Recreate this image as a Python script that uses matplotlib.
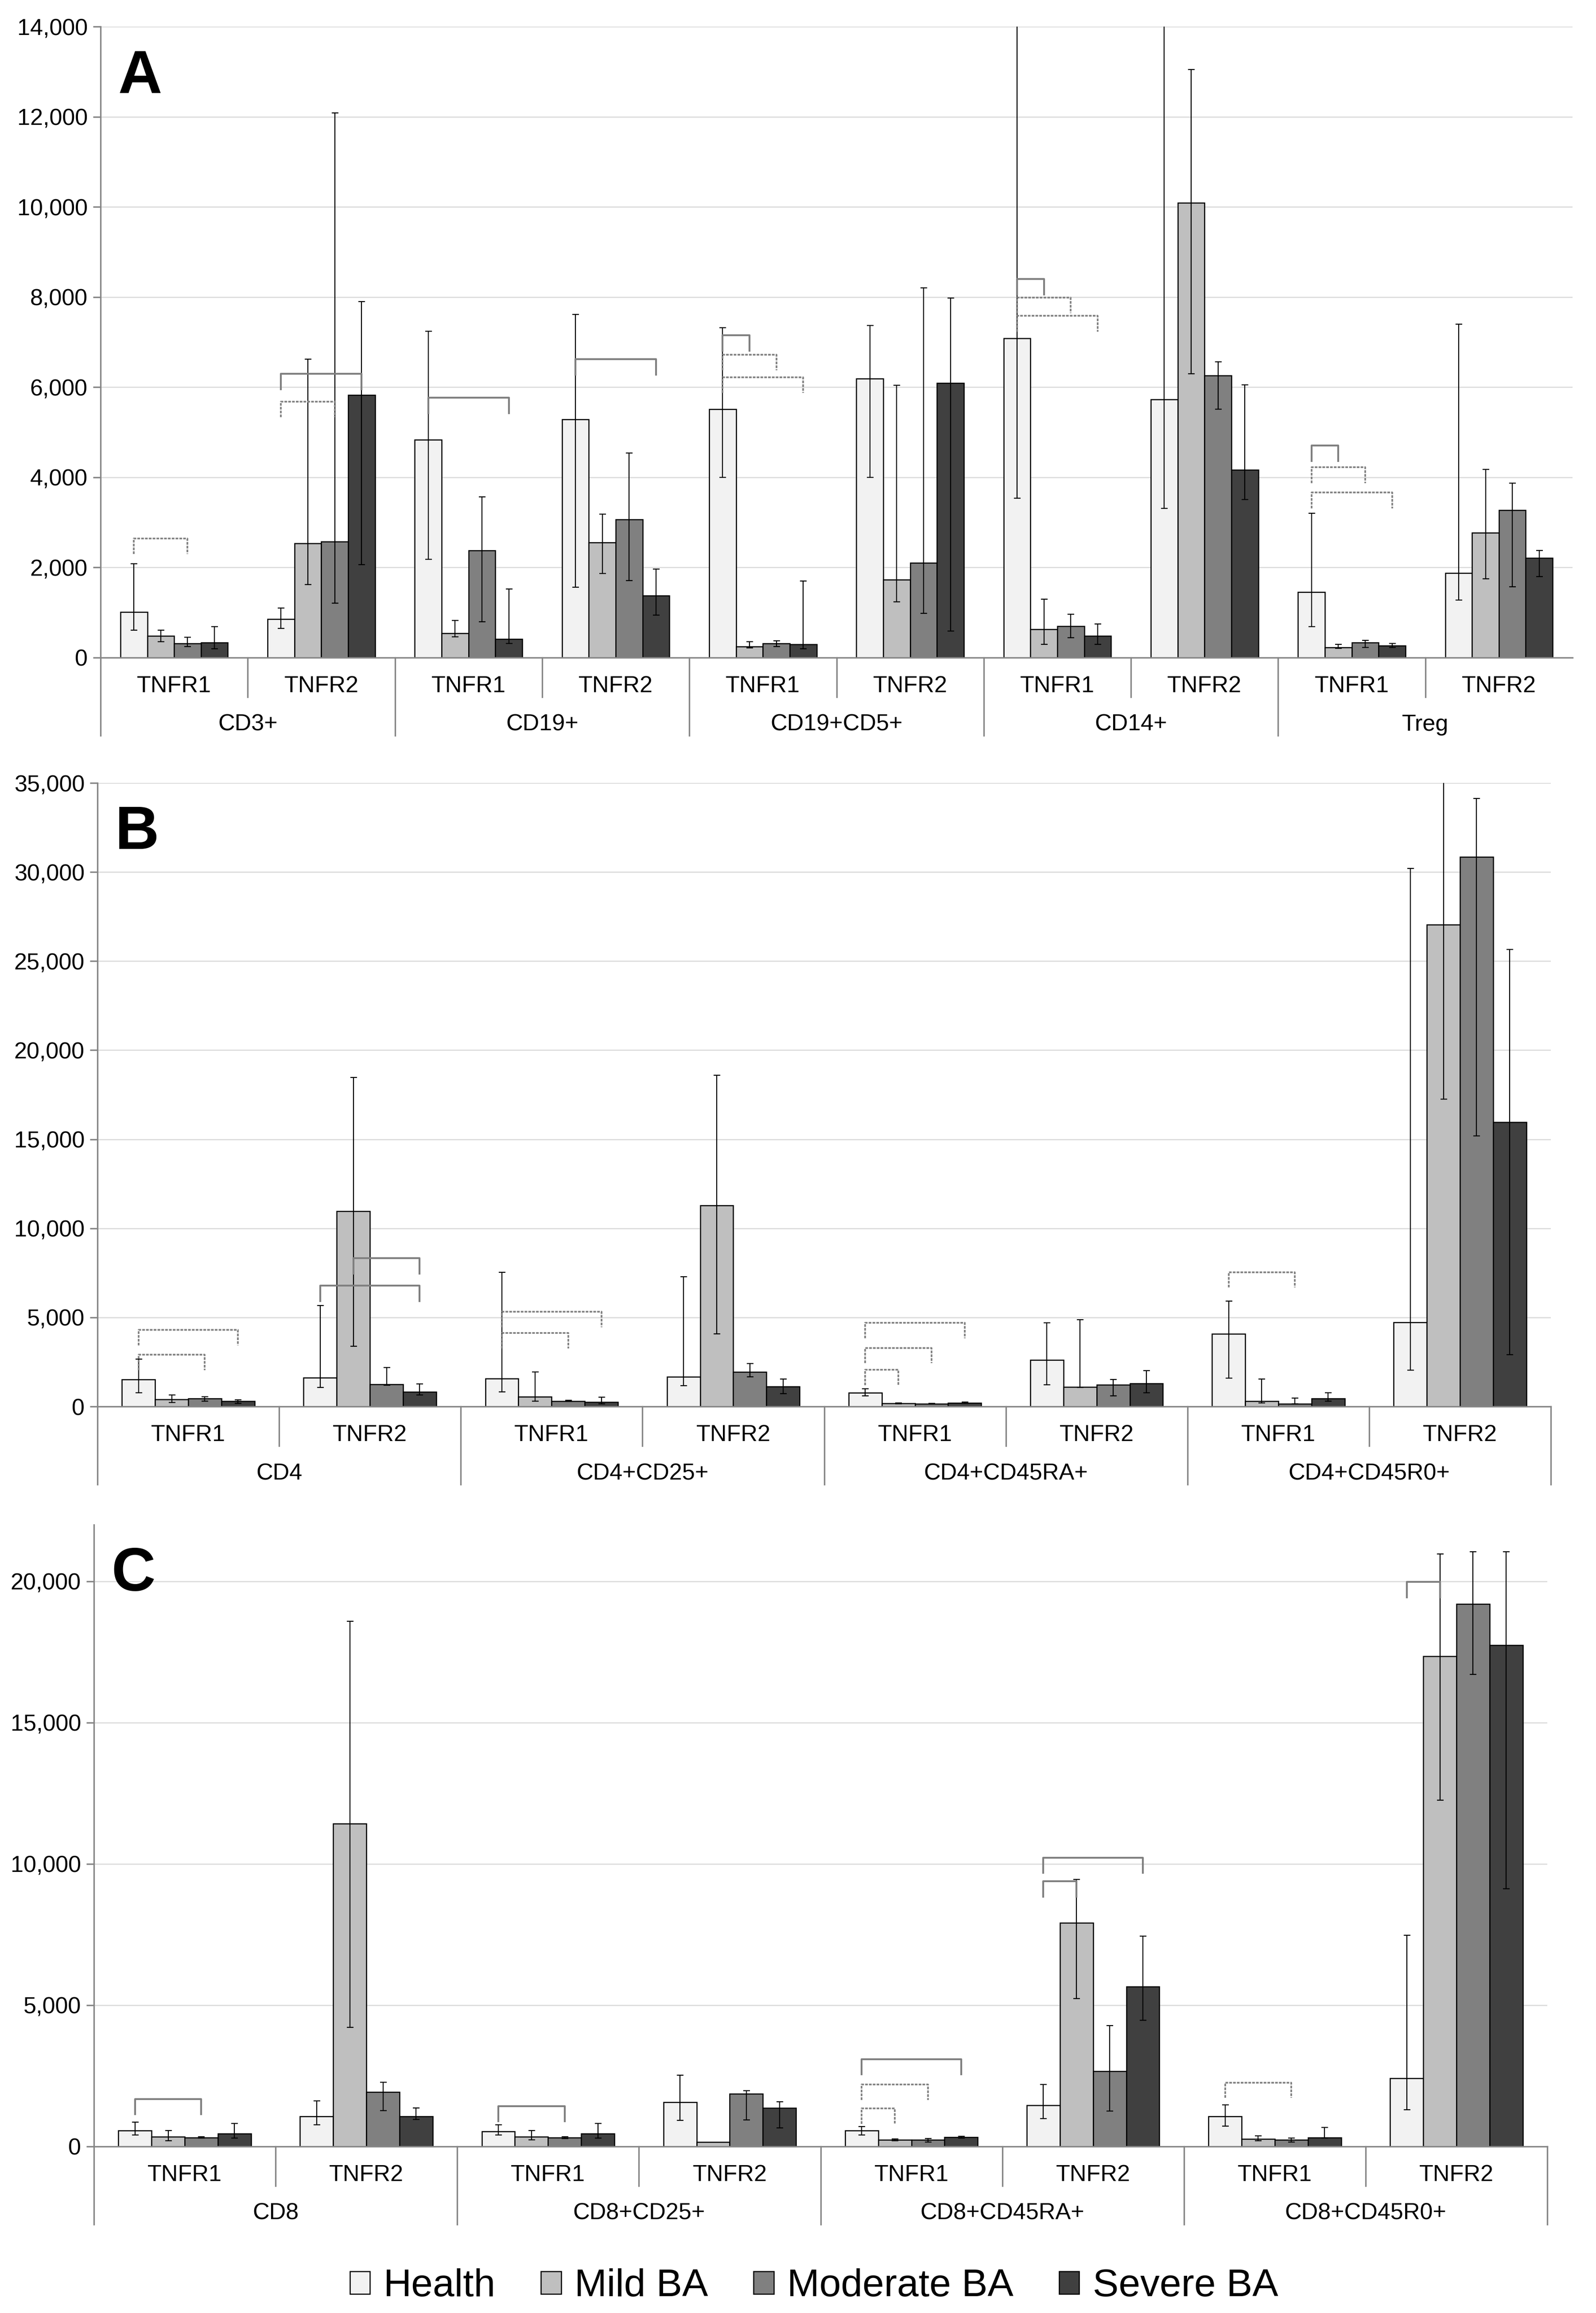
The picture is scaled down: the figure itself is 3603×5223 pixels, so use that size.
import numpy as np
import matplotlib
matplotlib.use("Agg")
import matplotlib.pyplot as plt
from matplotlib.patches import Patch
from matplotlib.ticker import FuncFormatter

plt.rcParams['font.family'] = ['Liberation Sans', 'DejaVu Sans']

# series names and colours
series = ['Health', 'Mild BA', 'Moderate BA', 'Severe BA']
colors = ['#f2f2f2', '#bfbfbf', '#808080', '#404040']
receptors = ['TNFR1', 'TNFR2']

# ---- panel A ----
a_groups = ['CD3+', 'CD19+', 'CD19+CD5+', 'CD14+', 'Treg']
a_health = [1010, 850, 4830, 5290, 5510, 6190, 7080, 5730, 1450, 1880]
a_health_hi = [2080, 1100, 7240, 7610, 7320, 7370, 16000, 16000, 3200, 7400]
a_health_lo = [610, 650, 2180, 1560, 4000, 4000, 3540, 3310, 690, 1280]
a_mild = [480, 2530, 540, 2550, 250, 1730, 630, 10090, 230, 2770]
a_mild_hi = [610, 6620, 830, 3180, 350, 6040, 1300, 13050, 290, 4180]
a_mild_lo = [350, 1620, 460, 1870, 220, 1240, 290, 6300, 210, 1750]
a_mod = [310, 2570, 2380, 3070, 310, 2100, 700, 6260, 330, 3270]
a_mod_hi = [450, 12080, 3570, 4540, 370, 8200, 960, 6560, 380, 3870]
a_mod_lo = [250, 1210, 800, 1710, 250, 980, 440, 5510, 230, 1570]
a_sev = [330, 5830, 410, 1380, 290, 6090, 480, 4170, 270, 2210]
a_sev_hi = [690, 7900, 1520, 1960, 1700, 7980, 750, 6050, 310, 2380]
a_sev_lo = [200, 2060, 310, 940, 200, 590, 290, 3510, 230, 1800]
# (category, bar from, bar to, level, style)
a_brackets = [(0, 0, 2, 2640, 'dot'), (1, 0, 3, 6300, 'solid'), (1, 0, 2, 5680, 'dot'),
              (2, 0, 3, 5770, 'solid'), (3, 0, 3, 6620, 'solid'),
              (4, 0, 1, 7150, 'solid'), (4, 0, 2, 6720, 'dot'), (4, 0, 3, 6220, 'dot'),
              (6, 0, 1, 8400, 'solid'), (6, 0, 2, 7990, 'dot'), (6, 0, 3, 7580, 'dot'),
              (8, 0, 1, 4710, 'solid'), (8, 0, 2, 4220, 'dot'), (8, 0, 3, 3660, 'dot')]

# ---- panel B ----
b_groups = ['CD4', 'CD4+CD25+', 'CD4+CD45RA+', 'CD4+CD45R0+']
b_health = [1510, 1620, 1560, 1670, 780, 2610, 4070, 4720]
b_health_hi = [2660, 5660, 7540, 7280, 990, 4690, 5920, 30200]
b_health_lo = [760, 1070, 810, 1170, 600, 1230, 1590, 2030]
b_mild = [390, 10950, 550, 11290, 180, 1100, 310, 27050]
b_mild_hi = [650, 18470, 1930, 18600, 200, 4880, 1540, 40000]
b_mild_lo = [230, 3390, 310, 4070, 160, 1070, 210, 17240]
b_mod = [440, 1250, 310, 1930, 160, 1230, 160, 30860]
b_mod_hi = [550, 2190, 340, 2400, 180, 1510, 470, 34120]
b_mod_lo = [290, 1200, 290, 1670, 150, 600, 160, 15180]
b_sev = [290, 810, 260, 1120, 210, 1300, 440, 15960]
b_sev_hi = [370, 1280, 520, 1540, 260, 2010, 780, 25660]
b_sev_lo = [180, 650, 160, 730, 180, 780, 290, 2900]
b_brackets = [(0, 0, 2, 2900, 'dot'), (0, 0, 3, 4300, 'dot'),
              (1, 1, 3, 8320, 'solid'), (1, 0, 3, 6780, 'solid'),
              (2, 0, 2, 4120, 'dot'), (2, 0, 3, 5320, 'dot'),
              (4, 0, 1, 2060, 'dot'), (4, 0, 2, 3290, 'dot'), (4, 0, 3, 4690, 'dot'),
              (6, 0, 2, 7540, 'dot')]

# ---- panel C ----
c_groups = ['CD8', 'CD8+CD25+', 'CD8+CD45RA+', 'CD8+CD45R0+']
c_health = [560, 1070, 530, 1560, 560, 1450, 1070, 2420]
c_health_hi = [860, 1610, 770, 2530, 710, 2190, 1470, 7470]
c_health_lo = [400, 760, 410, 920, 400, 990, 720, 1300]
c_mild = [350, 11420, 350, 160, 230, 7920, 260, 17350]
c_mild_hi = [560, 18580, 560, 160, 260, 9450, 380, 20970]
c_mild_lo = [200, 4210, 230, 160, 200, 5230, 200, 12250]
c_mod = [310, 1930, 310, 1860, 230, 2670, 230, 19190]
c_mod_hi = [350, 2270, 350, 1980, 280, 4280, 300, 21040]
c_mod_lo = [300, 1270, 280, 940, 160, 1250, 160, 16710]
c_sev = [460, 1070, 460, 1370, 330, 5660, 310, 17740]
c_sev_hi = [810, 1370, 810, 1580, 360, 7440, 670, 21040]
c_sev_lo = [300, 950, 300, 660, 300, 4460, 300, 9120]
c_brackets = [(0, 0, 2, 1680, 'solid'), (2, 0, 2, 1430, 'solid'),
              (4, 0, 1, 1350, 'dot'), (4, 0, 2, 2190, 'dot'), (4, 0, 3, 3090, 'solid'),
              (5, 0, 1, 9380, 'solid'), (5, 0, 3, 10220, 'solid'),
              (6, 0, 2, 2260, 'dot'), (7, 0, 1, 19980, 'solid')]

W, H = 3603, 5223
fig = plt.figure(figsize=(W / 300, H / 300), dpi=300)

bar_w = 0.1825
gray = '#868686'


def draw_panel(rect, letter, groups, means, his, los, brackets, ymax, ystep, ytop):
    ax = fig.add_axes(rect)
    n = len(groups) * 2
    x = np.arange(n)
    for i in range(4):
        xs = x + (i - 1.5) * bar_w
        m = np.array(means[i], float)
        ax.bar(xs, m, bar_w, color=colors[i], edgecolor='black', linewidth=0.6, zorder=2)
        hi = np.array(his[i], float)
        lo = np.array(los[i], float)
        ok = hi > lo
        ax.errorbar(xs[ok], m[ok], yerr=[m[ok] - lo[ok], hi[ok] - m[ok]], fmt='none',
                    ecolor='black', elinewidth=0.55, capsize=1.8, capthick=0.55, zorder=3)
    leg = 0.0247 * ytop
    for cat, b0, b1, lvl, st in brackets:
        x0 = cat + (b0 - 1.5) * bar_w
        x1 = cat + (b1 - 1.5) * bar_w
        if st == 'solid':
            kw = dict(color='#7f7f7f', lw=1.0, ls='-')
        else:
            kw = dict(color='#808080', lw=0.9, ls=(0, (1.6, 0.7)))
        ax.plot([x0, x0, x1, x1], [lvl - leg, lvl, lvl, lvl - leg], zorder=4,
                solid_joinstyle='round', **kw)

    ax.set_xlim(-0.5, n - 0.5)
    ax.set_ylim(0, ytop)
    ax.set_yticks(np.arange(0, ymax + 1, ystep))
    ax.yaxis.set_major_formatter(FuncFormatter(lambda v, p: f'{int(v):,}'))
    ax.set_xticks([])
    ax.yaxis.grid(True, color='#d9d9d9', lw=0.6)
    ax.set_axisbelow(True)
    for s in ['top', 'right']:
        ax.spines[s].set_visible(False)
    for s in ['left', 'bottom']:
        ax.spines[s].set_color(gray)
        ax.spines[s].set_linewidth(0.8)
    ax.tick_params(axis='y', colors=gray, length=4, width=0.8, labelsize=12.5,
                   labelcolor='black', pad=3)

    # multi-level category axis
    hpx = rect[3] * H
    tr = ax.get_xaxis_transform()
    short, long_ = 89 / hpx, 176 / hpx
    for k in range(n):
        ax.text(k, -78 / hpx, receptors[k % 2], transform=tr, ha='center',
                va='baseline', fontsize=12.5)
    for g, name in enumerate(groups):
        ax.text(2 * g + 0.5, -165 / hpx, name, transform=tr, ha='center',
                va='baseline', fontsize=12.5)
    edges = range(0, n + 1) if letter != 'A' else range(0, n)
    for k in edges:
        L = long_ if k % 2 == 0 else short
        ax.plot([k - 0.5, k - 0.5], [0, -L], transform=tr, color=gray, lw=0.8,
                clip_on=False)
    ax.text(0.012, 0.965, letter, transform=ax.transAxes, fontsize=33,
            fontweight='bold', ha='left', va='top')
    return ax


draw_panel([227 / W, 1 - 1485 / H, 3323 / W, 1425 / H], 'A', a_groups,
           [a_health, a_mild, a_mod, a_sev],
           [a_health_hi, a_mild_hi, a_mod_hi, a_sev_hi],
           [a_health_lo, a_mild_lo, a_mod_lo, a_sev_lo],
           a_brackets, 14000, 2000, 14000)
draw_panel([220 / W, 1 - 3176 / H, 3281 / W, 1408 / H], 'B', b_groups,
           [b_health, b_mild, b_mod, b_sev],
           [b_health_hi, b_mild_hi, b_mod_hi, b_sev_hi],
           [b_health_lo, b_mild_lo, b_mod_lo, b_sev_lo],
           b_brackets, 35000, 5000, 35000)
draw_panel([212 / W, 1 - 4847 / H, 3281 / W, 1404 / H], 'C', c_groups,
           [c_health, c_mild, c_mod, c_sev],
           [c_health_hi, c_mild_hi, c_mod_hi, c_sev_hi],
           [c_health_lo, c_mild_lo, c_mod_lo, c_sev_lo],
           c_brackets, 20000, 5000, 22000)

handles = [Patch(facecolor=c, edgecolor='black', linewidth=0.6) for c in colors]
fig.legend(handles, series, loc='center', bbox_to_anchor=(0.51, 0.0115), ncol=4,
           fontsize=21, frameon=False, handlelength=0.52, handleheight=0.53,
           handletextpad=0.35, columnspacing=1.17, borderaxespad=0)

fig.savefig('out.png', dpi=300, facecolor='white')
